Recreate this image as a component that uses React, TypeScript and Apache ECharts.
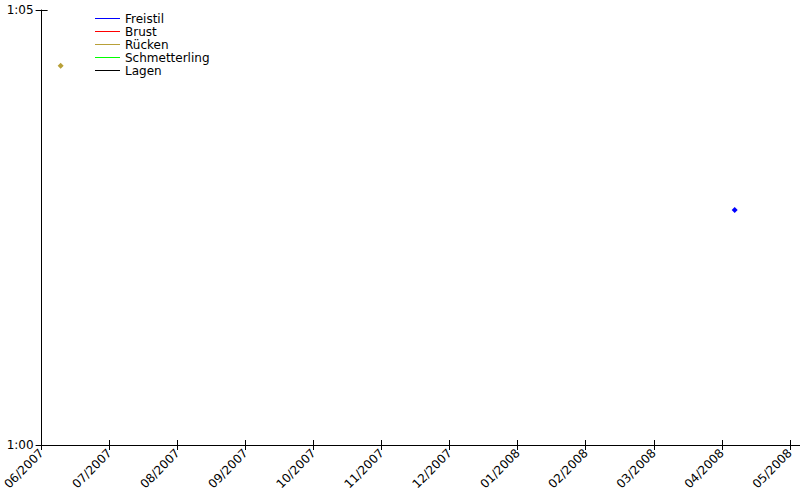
import React, { useEffect, useRef } from "react";
import * as echarts from "echarts";

const monthLabels = ["06/2007", "07/2007", "08/2007", "09/2007", "10/2007", "11/2007", "12/2007", "01/2008", "02/2008", "03/2008", "04/2008", "05/2008"];
const seriesNames = ["Freistil", "Brust", "Rücken", "Schmetterling", "Lagen"];
const seriesColors = ["#0000ff", "#ff0000", "#b8a038", "#00ff00", "#000000"];
// x: months since 06/2007, y: time in seconds
const freistilData = [[10.19, 62.7]];
const brustData: number[][] = [];
const rueckenData = [[0.28, 64.36]];
const schmetterlingData: number[][] = [];
const lagenData: number[][] = [];
const yTicks = [60, 65];

const allData = [freistilData, brustData, rueckenData, schmetterlingData, lagenData];
const tickIdx = monthLabels.map((_, i) => i);

const fmtTime = (v: number) => {
  const m = Math.floor(v / 60);
  const s = Math.round(v - m * 60);
  return `${m}:${String(s).padStart(2, "0")}`;
};

export default function App() {
  const ref = useRef<HTMLDivElement>(null);
  useEffect(() => {
    const chart = echarts.init(ref.current!, null, { renderer: "svg" });
    const font = "DejaVu Sans";
    const xBase = { type: "value", min: 0, max: 11.15, position: "bottom", splitLine: { show: false } };
    const yBase = { type: "value", min: 60, max: 65, interval: 5, position: "left", splitLine: { show: false } };
    const legendLeft = 95;
    const legendTop = 12;
    const rowH = 13;
    chart.setOption({
      animation: false,
      backgroundColor: "#ffffff",
      grid: { left: 41, right: 0, top: 10, bottom: 55 },
      legend: {
        orient: "vertical",
        left: legendLeft,
        top: legendTop,
        padding: 0,
        itemGap: 0,
        itemWidth: 25,
        itemHeight: 1,
        icon: "rect",
        itemStyle: { opacity: 0 },
        selectedMode: false,
        textStyle: { fontFamily: font, fontSize: 12, color: "#000", lineHeight: rowH },
        data: seriesNames,
      },
      graphic: seriesNames.map((n, i) => ({
        type: "line",
        silent: true,
        shape: {
          x1: legendLeft,
          y1: legendTop + rowH * i + 6.5,
          x2: legendLeft + 25,
          y2: legendTop + rowH * i + 6.5,
        },
        style: { stroke: seriesColors[i], lineWidth: 1 },
      })),
      xAxis: [
        {
          ...xBase,
          axisLine: { show: true, lineStyle: { color: "#000", width: 1 } },
          axisTick: { show: true, inside: false, length: 5, lineStyle: { color: "#000" }, customValues: tickIdx },
          axisLabel: {
            show: true,
            rotate: 45,
            margin: 6,
            fontFamily: font,
            fontSize: 12,
            color: "#000",
            customValues: tickIdx,
            formatter: (v: number) => monthLabels[Math.round(v)] ?? "",
          },
        },
        {
          ...xBase,
          axisLine: { show: false },
          axisTick: { show: true, inside: true, length: 5, lineStyle: { color: "#000" }, customValues: tickIdx },
          axisLabel: { show: false },
        },
      ],
      yAxis: [
        {
          ...yBase,
          axisLine: { show: true, lineStyle: { color: "#000", width: 1 } },
          axisTick: { show: true, inside: false, length: 6, lineStyle: { color: "#000" }, customValues: yTicks },
          axisLabel: {
            show: true,
            margin: 8,
            fontFamily: font,
            fontSize: 12,
            color: "#000",
            customValues: yTicks,
            formatter: (v: number) => fmtTime(v),
          },
        },
        {
          ...yBase,
          axisLine: { show: false },
          axisTick: { show: true, inside: true, length: 6, lineStyle: { color: "#000" }, customValues: yTicks },
          axisLabel: { show: false },
        },
      ],
      series: seriesNames.map((n, i) => ({
        name: n,
        type: "line",
        xAxisIndex: 0,
        yAxisIndex: 0,
        data: allData[i],
        symbol: "diamond",
        symbolSize: 6,
        showSymbol: true,
        color: seriesColors[i],
        lineStyle: { color: seriesColors[i], width: 1 },
        itemStyle: { color: seriesColors[i] },
      })),
    });
    return () => chart.dispose();
  }, []);
  return <div ref={ref} style={{ width: 800, height: 500, position: "absolute", left: 0, top: 0 }} />;
}
